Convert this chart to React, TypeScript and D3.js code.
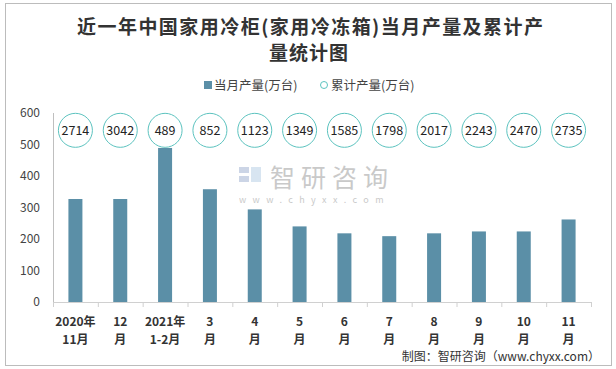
import * as d3 from "d3";

// chart data
const categories = [
  ["2020年", "11月"],
  ["12", "月"],
  ["2021年", "1-2月"],
  ["3", "月"],
  ["4", "月"],
  ["5", "月"],
  ["6", "月"],
  ["7", "月"],
  ["8", "月"],
  ["9", "月"],
  ["10", "月"],
  ["11", "月"],
];
const monthly = [327, 327, 489, 358, 294, 240, 218, 209, 218, 224, 224, 262];
const cumulative = [2714, 3042, 489, 852, 1123, 1349, 1585, 1798, 2017, 2243, 2470, 2735];
const yTicks = [0, 100, 200, 300, 400, 500, 600];

const W = 616;
const H = 369;
const m = { left: 53, right: 25, top: 113, bottom: 67 };
const BAR = "#5b8fa7";
const RING = "#5cc3bf";
const FONT = "'Noto Sans CJK SC', 'Noto Sans', sans-serif";

export default function App() {
  const x = d3
    .scaleBand<number>()
    .domain(d3.range(categories.length))
    .range([m.left, W - m.right]);
  const y = d3.scaleLinear().domain([0, 600]).range([H - m.bottom, m.top]);
  const barW = 14;
  const labelY = y(545);

  return (
    <svg
      width={W}
      height={H}
      style={{ position: "absolute", left: 0, top: 0, background: "#fff" }}
      fontFamily={FONT}
    >
      {/* outer frame */}
      <rect x={5.5} y={3.5} width={606} height={362} fill="#fff" stroke="#bcbcbc" />

      {/* title */}
      <g fontWeight="bold" fontSize={19} fill="#333" textAnchor="middle">
        <text x={310} y={34} textLength={466} lengthAdjust="spacing">
          近一年中国家用冷柜(家用冷冻箱)当月产量及累计产
        </text>
        <text x={309} y={60} letterSpacing={1}>量统计图</text>
      </g>

      {/* legend */}
      <g fontSize={12.5} fill="#444">
        <rect x={204} y={81} width={8} height={8} fill={BAR} />
        <text x={214} y={89.5}>当月产量(万台)</text>
        <circle cx={324} cy={85} r={3.5} fill="none" stroke={RING} strokeWidth={1} />
        <text x={331} y={89.5}>累计产量(万台)</text>
      </g>

      {/* watermark */}
      <g opacity={0.45}>
        <rect x={239} y={167} width={10} height={6} fill="#8fa3c8" />
        <rect x={239} y={176} width={10} height={6} fill="#8fa3c8" />
        <rect x={251} y={167} width={10} height={15} fill="#a9c6e2" />
        <text x={270} y={187} fontSize={25} fill="#888" letterSpacing={6}>智研咨询</text>
        <text x={239} y={203} fontSize={9} fill="#888" letterSpacing={6.4}>www.chyxx.com</text>
      </g>

      {/* y axis */}
      <line x1={m.left + 0.5} x2={m.left + 0.5} y1={y(600)} y2={y(0)} stroke="#bfbfbf" />
      <g fontSize={12} fill="#444" textAnchor="end">
        {yTicks.map((t) => (
          <text key={t} x={40} y={y(t) + 4}>
            {t}
          </text>
        ))}
      </g>

      {/* bars */}
      {monthly.map((v, i) => (
        <rect
          key={i}
          x={x(i)! + x.bandwidth() / 2 - barW / 2}
          y={y(v)}
          width={barW}
          height={y(0) - y(v)}
          fill={BAR}
        />
      ))}

      {/* x axis */}
      <line x1={m.left} x2={W - m.right} y1={y(0) + 0.5} y2={y(0) + 0.5} stroke="#d0d0d0" />
      {d3.range(categories.length + 1).map((i) => {
        const xx = i < categories.length ? x(i)! : W - m.right;
        return (
          <line key={i} x1={xx + 0.5} x2={xx + 0.5} y1={y(0)} y2={y(0) + 5} stroke="#d0d0d0" />
        );
      })}
      <g fontSize={12} fontWeight="bold" fill="#333" textAnchor="middle">
        {categories.map((c, i) => (
          <text key={i} x={x(i)! + x.bandwidth() / 2}>
            <tspan x={x(i)! + x.bandwidth() / 2} y={326}>{c[0]}</tspan>
            <tspan x={x(i)! + x.bandwidth() / 2} y={344}>{c[1]}</tspan>
          </text>
        ))}
      </g>

      {/* cumulative labels in rings */}
      {cumulative.map((v, i) => {
        const cx = x(i)! + x.bandwidth() / 2;
        return (
          <g key={i}>
            <circle cx={cx} cy={labelY} r={17} fill="#fff" stroke={RING} strokeWidth={1} />
            <text x={cx} y={labelY + 4.5} fontSize={12.5} fill="#222" textAnchor="middle">
              {v}
            </text>
          </g>
        );
      })}

      {/* source */}
      <text x={600} y={361} fontSize={12} fill="#333" textAnchor="end">
        制图：智研咨询（www.chyxx.com）
      </text>
    </svg>
  );
}
